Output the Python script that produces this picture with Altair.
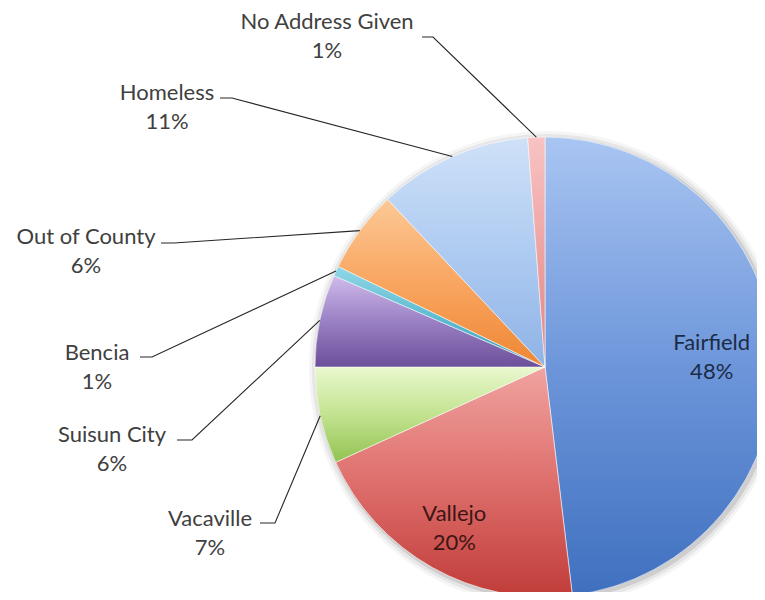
import math
import pandas as pd
import altair as alt

# ---- data ----
categories = ["Fairfield", "Vallejo", "Vacaville", "Suisun City", "Bencia",
              "Out of County", "Homeless", "No Address Given"]
values = [48.1, 20.1, 6.8, 6.5, 0.7, 5.8, 10.8, 1.2]
pct_labels = ["48%", "20%", "7%", "6%", "1%", "6%", "11%", "1%"]

# ---- styling / layout ----
W, H = 749, 584
CX, CY, R = 537, 359, 230
FONT = "Lato"
FS = 22
LH = 29

grad_colors = {
    "Fairfield": ["#a9c5f2", "#6d96da", "#3f70bf"],
    "Vallejo": ["#f0a3a1", "#de6f6c", "#c03c39"],
    "Vacaville": ["#eaf8cf", "#c2e38f", "#93c253"],
    "Suisun City": ["#cfbbeb", "#9a80c4", "#6c4f99"],
    "Bencia": ["#8fd6e6", "#5fbdd2", "#3a9fb8"],
    "Out of County": ["#fcc996", "#f9a560", "#ee8634"],
    "Homeless": ["#cfe1f8", "#aecbf1", "#8fb3e6"],
    "No Address Given": ["#f8c3c3", "#eea3a3", "#dd8585"],
}

# outside labels: first-line centre, tick start, tick end (plot px)
outside = {
    "No Address Given": ((319, 14), (414, 29), (425, 29)),
    "Homeless": ((159, 85), (212, 90), (224, 90)),
    "Out of County": ((78, 229), (153, 235), (166, 235)),
    "Bencia": ((89, 345), (132, 349), (144, 349)),
    "Suisun City": ((104, 427), (169, 432), (184, 432)),
    "Vacaville": ((202, 511), (252, 515), (267, 515)),
}
inside_r = {"Fairfield": 167, "Vallejo": 185}
inside_color = {"Fairfield": "#1c2b47", "Vallejo": "#3d1515"}

# ---- derived table ----
starts, ends = [], []
acc = 0.0
for v in values:
    starts.append(acc)
    acc += v
    ends.append(acc)
df = pd.DataFrame({"cat": categories, "value": values, "pct": pct_labels,
                   "start": starts, "end": ends})
df["mid_ang"] = (df["start"] + df["end"]) / 2 / 100 * 2 * math.pi

theta_scale = alt.Scale(domain=[0, 100], range=[0, 2 * math.pi])

layers = []
# soft shadow
for rr, op in [(238, 0.04), (235, 0.06), (232, 0.10)]:
    layers.append(
        alt.Chart(pd.DataFrame({"a": [0], "b": [100]})).mark_arc(
            outerRadius=rr, color="#000000", opacity=op
        ).encode(
            theta=alt.Theta("a:Q", scale=theta_scale), theta2="b:Q",
            x=alt.value(CX + 2), y=alt.value(CY + 2),
        )
    )

for cat in categories:
    c = grad_colors[cat]
    grad = alt.Gradient(
        gradient="linear",
        stops=[alt.GradientStop(color=c[0], offset=0),
               alt.GradientStop(color=c[1], offset=0.5),
               alt.GradientStop(color=c[2], offset=1)],
        x1=0, x2=0, y1=0, y2=1,
    )
    layers.append(
        alt.Chart(df[df["cat"] == cat]).mark_arc(
            outerRadius=R, color=grad, stroke="#ffffff", strokeWidth=0.8,
            strokeOpacity=0.7
        ).encode(
            theta=alt.Theta("start:Q", scale=theta_scale),
            theta2="end:Q",
            x=alt.value(CX), y=alt.value(CY),
        )
    )

# leader lines
rows = []
for cat, (lab, t0, t1) in outside.items():
    a = float(df.loc[df["cat"] == cat, "mid_ang"].iloc[0])
    ex, ey = CX + R * math.sin(a), CY - R * math.cos(a)
    rows += [{"cat": cat, "o": 0, "x": t0[0], "y": t0[1]},
             {"cat": cat, "o": 1, "x": t1[0], "y": t1[1]},
             {"cat": cat, "o": 2, "x": ex, "y": ey}]
lead = pd.DataFrame(rows)
layers.append(
    alt.Chart(lead).mark_line(color="#262626", strokeWidth=1.1).encode(
        x=alt.X("x:Q", scale=None, axis=None),
        y=alt.Y("y:Q", scale=None, axis=None),
        detail="cat:N", order="o:Q",
    )
)

# labels
lab_rows = []
for cat, (lab, t0, t1) in outside.items():
    p = df.loc[df["cat"] == cat, "pct"].iloc[0]
    lab_rows.append({"txt": f"{cat}\n{p}", "x": lab[0], "y": lab[1], "col": "#404040"})
for cat, r in inside_r.items():
    a = float(df.loc[df["cat"] == cat, "mid_ang"].iloc[0])
    p = df.loc[df["cat"] == cat, "pct"].iloc[0]
    lab_rows.append({"txt": f"{cat}\n{p}", "x": CX + r * math.sin(a),
                     "y": CY - r * math.cos(a) - LH / 2, "col": inside_color[cat]})
labdf = pd.DataFrame(lab_rows)
layers.append(
    alt.Chart(labdf).mark_text(
        font=FONT, fontSize=FS, lineBreak="\n", lineHeight=LH,
        align="center", baseline="middle"
    ).encode(
        x=alt.X("x:Q", scale=None, axis=None),
        y=alt.Y("y:Q", scale=None, axis=None),
        text="txt:N",
        color=alt.Color("col:N", scale=None, legend=None),
    )
)

chart = alt.layer(*layers).properties(
    width=W, height=H, padding=0, autosize=alt.AutoSizeParams(type="none"),
    background="white",
).configure_view(stroke=None)

chart.save("out.html", embed_options={"renderer": "svg", "actions": False})
